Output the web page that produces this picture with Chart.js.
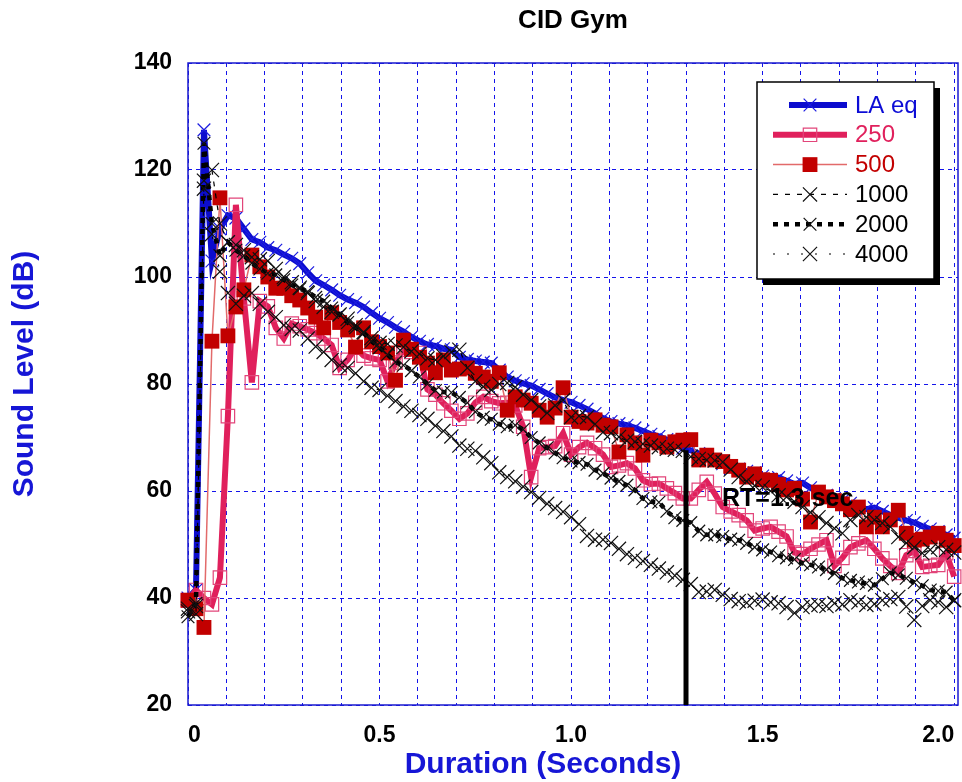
<!DOCTYPE html>
<html>
<head>
<meta charset="utf-8">
<title>CID Gym</title>
<script src="https://cdn.jsdelivr.net/npm/chart.js@4.4.1/dist/chart.umd.min.js"></script>
<style>
  html, body { margin: 0; padding: 0; background: #fff; }
  #wrap { width: 962px; height: 782px; }
</style>
</head>
<body>
<div id="wrap"><canvas id="gymChart" width="962" height="782"></canvas></div>
<script>
// --- data: one reading every 1/48 s, levels in dB ---
const sampleStep = 1 / 48;

const laEq = [
  40, 41.5, 127.5, 103, 109, 111.5, 111, 109, 107, 106.5,
  105.5, 105, 104.2, 103.5, 102.5, 100.8, 99.3, 98.5, 97.6, 96.6,
  95.8, 95.2, 94.4, 93.3, 92.3, 91.5, 90.6, 89.8, 88.8, 88,
  87.4, 87.1, 86.6, 86.4, 85, 84.6, 84.3, 84.1, 83.9, 82.6,
  81.3, 80.6, 80.1, 79.7, 79, 78.2, 77.5, 77, 76.6, 76,
  75.3, 74.5, 73.6, 73, 72.6, 72.3, 71.8, 71.2, 70.6, 70.2,
  69.6, 68.8, 68, 67.6, 67, 66.3, 65.7, 65.1, 64.6, 64.1,
  63.7, 63.4, 62.8, 62.2, 62.5, 61.9, 61.3, 61.5, 60.6, 59.8,
  59.2, 58.6, 58.2, 57.7, 57.1, 56.6, 56.9, 56.2, 55.5, 55,
  54.5, 54.1, 53.4, 52.9, 52.4, 51.8, 51.2
];
const band250 = [
  39.5, 41.5, 40, 38.8, 43.8, 74, 113.5, 96, 80.3, 95.5,
  94.5, 90.5, 88.5, 91.3, 90.8, 90.2, 89.5, 88.5, 87.3, 83,
  84.5, 86.8, 85.3, 84.8, 84.5, 80.5, 84, 86.4, 86, 85.8,
  79, 78, 76.4, 75, 73.5, 74.5, 76.5, 77.6, 76.8, 76.4,
  76.5, 76, 72, 62.6, 68, 68.2, 68.4, 70.8, 66.8, 68.2,
  69, 68, 66.8, 64.5, 64.8, 65.2, 64.2, 62, 61.3, 61.4,
  60.5, 59.6, 58.6, 58.6, 60.2, 61.7, 59.5, 57, 56.2, 55.5,
  54.5, 52.6, 53, 53.3, 52.4, 51.5, 48.5, 48.2, 49.2, 50,
  50.8, 46, 47.5, 49.5, 50.2, 50.8, 49.2, 47.4, 46, 44.7,
  48, 48.8, 45.8, 46, 46.2, 48.4, 44
];
const band500 = [
  39.6, 38, 34.5, 88, 114.8, 89, 94.4, 97.6, 104.1, 101.9,
  100, 97.9, 97.9, 96.5, 95.7, 94.2, 92.5, 90.5, 93.3, 91.5,
  90.1, 86.9, 90.5, 87.9, 87, 85.8, 80.7, 88.2, 86.5, 85,
  83.9, 82.1, 84.5, 82.6, 82.8, 83, 82, 81.3, 80.5, 82.1,
  75.1, 77.6, 77, 76.4, 75.1, 73.8, 75.5, 79.3, 73.8, 73,
  72.7, 73.3, 72.3, 72, 67.3, 70.5, 69, 66.7, 69.5, 69,
  68.2, 69.2, 69.5, 69.6, 65.8, 66.7, 65.8, 65.5, 64.6, 63.9,
  62.6, 63.2, 62.1, 62, 61.2, 60.2, 60.5, 58.5, 54.2, 59.8,
  58.9, 58.2, 57.6, 56.5, 57, 53.3, 55.1, 53.3, 54.6, 56.4,
  52.1, 50.8, 51, 51.4, 52.1, 50.8, 49.8
];
const band1000 = [
  38, 37, 118, 120, 110, 106.5, 106, 105, 103.7, 103.3,
  103, 101.5, 100, 99, 98, 97, 95.5, 94.4, 93.5, 93,
  92.2, 91, 89.7, 88.6, 87.7, 87.5, 87.2, 86.9, 86.1, 85.6,
  84.8, 84.5, 85.2, 86, 86.4, 83, 80.5, 79.5, 78.9, 80,
  80.2, 79.4, 78, 77, 75.8, 74.6, 76, 77, 73.8, 74,
  73.8, 72.5, 71, 70.8, 70.1, 69.4, 69.2, 68.8, 68.5, 68.2,
  67.9, 67.7, 67.5, 66.4, 66, 65.8, 65.7, 65.4, 64, 62.6,
  61.8, 61, 60.7, 60, 59.2, 58.9, 58, 57, 56, 55.1,
  54, 53, 52.1, 54.6, 55.5, 55.1, 54.6, 54, 53.3, 51.4,
  50.3, 49.5, 48.4, 49, 49.5, 49, 48.5
];
const band2000 = [
  36.5, 39, 125, 110, 104, 106.5, 105, 104, 102.6, 101.5,
  100.7, 100.4, 99.5, 98.5, 97.8, 97.3, 96.2, 95.5, 94.2, 93,
  91.5, 90.5, 89.5, 88, 86.8, 85.5, 84.1, 83.5, 82.5, 81.3,
  80, 78.8, 78.5, 78.4, 77.5, 76.5, 74.8, 73.8, 73.4, 72.5,
  72, 72.3, 71.5, 70, 69, 68.1, 67.1, 66.2, 65.6, 65.3,
  65, 63.9, 63.3, 62.4, 61.8, 61.1, 60.2, 58.6, 58, 57.9,
  56.2, 55, 54.5, 54.1, 52.5, 51.8, 51.8, 51.5, 51, 50.8,
  50.2, 49.5, 49, 48.6, 47.9, 47.5, 47.2, 46.5, 46.2, 45.8,
  45.3, 44.6, 43.7, 43.3, 43, 42.7, 42.4, 43.6, 44.7, 44.3,
  43.7, 42.9, 42.3, 41.5, 41.3, 41.1, 39.5
];
const band4000 = [
  37.5, 38.5, 116.5, 108, 101, 97, 95, 96.5, 97, 95,
  93.5, 92.5, 91, 90.3, 90, 88.5, 87, 86, 84.5, 83.5,
  83, 82, 80.5, 79.3, 78.9, 77.8, 76.8, 75.8, 75, 74.2,
  73.5, 72.2, 71.2, 70.2, 68.5, 67.9, 67.5, 66.3, 65.2, 63.5,
  62.6, 61.8, 60.8, 59.8, 58.7, 57.6, 56.8, 56.1, 55.1, 53.8,
  51.6, 50.9, 50.9, 50.3, 49.2, 48.2, 47.5, 46.9, 46.2, 45.5,
  44.8, 44.2, 43.4, 42.6, 41.1, 41.2, 41.5, 40.6, 39.8, 39.4,
  39.1, 39.5, 39.7, 39.2, 39, 38.3, 37.2, 38.3, 38.6, 38.7,
  38.5, 39, 38.8, 39.6, 39.2, 38.7, 38.9, 39.6, 39.8, 40.2,
  38.4, 35.9, 38.5, 39.6, 39.2, 38.3, 39.6
];

// reverberation time marker
const rtTime = 1.3;
const rtLevels = [20, 67.6];
const rtLabel = 'RT=1.3 sec';

// axes
const xGridValues = [0, 0.1, 0.2, 0.3, 0.4, 0.5, 0.6, 0.7, 0.8, 0.9, 1.0,
  1.1, 1.2, 1.3, 1.4, 1.5, 1.6, 1.7, 1.8, 1.9, 2.0];
const xTickValues = [0, 0.5, 1.0, 1.5, 2.0];
const xTickLabels = ['0', '0.5', '1.0', '1.5', '2.0'];
const yTickValues = [20, 40, 60, 80, 100, 120, 140];

const FONT = '"Liberation Sans", Arial, Helvetica, sans-serif';
const GRID_BLUE = 'rgb(20, 20, 235)';
const TITLE_BLUE = '#1616d6';

const times = laEq.map((_, i) => i * sampleStep);
const toPoints = vals => vals.map((v, i) => ({ x: times[i], y: v }));

const datasets = [
  {
    label: 'LA eq', data: toPoints(laEq), order: 6,
    borderColor: '#0c0cce', borderWidth: 6,
    pointStyle: 'crossRot', pointRadius: 9, pointBorderWidth: 1.2,
    pointBorderColor: '#1c1ce0', pointBackgroundColor: 'rgba(0,0,0,0)',
    inLegend: true, legendText: '#0c0cd6', legendStart: 32
  },
  {
    label: '250', data: toPoints(band250), order: 5,
    borderColor: '#e0205c', borderWidth: 6,
    pointStyle: 'rect', pointRadius: 9.5, pointBorderWidth: 1.2,
    pointBorderColor: '#e2457a', pointBackgroundColor: 'rgba(0,0,0,0)',
    inLegend: true, legendText: '#e0205c'
  },
  {
    label: '500', data: toPoints(band500), order: 4,
    borderColor: '#e26a6a', borderWidth: 1.5,
    pointStyle: 'rect', pointRadius: 10.5, pointBorderWidth: 0,
    pointBorderColor: '#c20000', pointBackgroundColor: '#c20000',
    inLegend: true, legendText: '#c20000'
  },
  {
    label: '1000', data: toPoints(band1000), order: 3,
    borderColor: '#000', borderWidth: 1.2, borderDash: [5, 7],
    pointStyle: 'crossRot', pointRadius: 10, pointBorderWidth: 1.2,
    pointBorderColor: '#111', pointBackgroundColor: 'rgba(0,0,0,0)',
    inLegend: true, legendText: '#000'
  },
  {
    label: '2000', data: toPoints(band2000), order: 2,
    borderColor: '#000', borderWidth: 4.5, borderDash: [5, 6],
    pointStyle: 'crossRot', pointRadius: 9, pointBorderWidth: 1.2,
    pointBorderColor: '#111', pointBackgroundColor: 'rgba(0,0,0,0)',
    inLegend: true, legendText: '#000'
  },
  {
    label: '4000', data: toPoints(band4000), order: 1,
    borderColor: '#000', borderWidth: 1.2, borderDash: [2, 12],
    pointStyle: 'crossRot', pointRadius: 10, pointBorderWidth: 1.2,
    pointBorderColor: '#111', pointBackgroundColor: 'rgba(0,0,0,0)',
    inLegend: true, legendText: '#000'
  },
  {
    label: 'RT', data: rtLevels.map(v => ({ x: rtTime, y: v })), order: 0,
    borderColor: '#000', borderWidth: 5, pointRadius: 0
  }
];

// title, axis titles, frame, legend box and RT note
const decorPlugin = {
  id: 'gymDecor',
  beforeDatasetsDraw(chart) {
    const { ctx, chartArea: a } = chart;
    ctx.save();
    ctx.strokeStyle = '#1a1ad0';
    ctx.lineWidth = 1.5;
    ctx.strokeRect(a.left, a.top, a.right - a.left, a.bottom - a.top);
    ctx.restore();
  },
  afterDraw(chart) {
    const { ctx, chartArea: a, scales } = chart;
    ctx.save();
    ctx.textAlign = 'center';
    ctx.textBaseline = 'middle';
    ctx.fillStyle = '#000';
    ctx.font = 'bold 26px ' + FONT;
    ctx.fillText('CID Gym', (a.left + a.right) / 2, 21);

    ctx.fillStyle = TITLE_BLUE;
    ctx.font = 'bold 30px ' + FONT;
    ctx.fillText('Duration (Seconds)', (a.left + a.right) / 2 - 30, 765);
    ctx.translate(25, (a.top + a.bottom) / 2 - 10);
    ctx.rotate(-Math.PI / 2);
    ctx.fillText('Sound Level (dB)', 0, 0);
    ctx.restore();

    // RT note
    ctx.save();
    ctx.fillStyle = '#000';
    ctx.font = 'bold 25px ' + FONT;
    ctx.textAlign = 'left';
    ctx.textBaseline = 'middle';
    ctx.fillText(rtLabel, scales.x.getPixelForValue(1.394), scales.y.getPixelForValue(58.4));
    ctx.restore();

    // legend box with drop shadow
    const L = a.right - 201, T = a.top + 19, W = 177, H = 197;
    ctx.save();
    ctx.fillStyle = '#000';
    ctx.fillRect(L + 6, T + 6, W, H);
    ctx.fillStyle = '#fff';
    ctx.fillRect(L, T, W, H);
    ctx.strokeStyle = '#000';
    ctx.lineWidth = 1.5;
    ctx.strokeRect(L, T, W, H);
    let row = 0;
    chart.data.datasets.forEach(ds => {
      if (!ds.inLegend) return;
      const y = T + 23 + row * 29.8;
      row++;
      ctx.save();
      ctx.setLineDash(ds.borderDash || []);
      ctx.strokeStyle = ds.borderColor;
      ctx.lineWidth = ds.borderWidth;
      ctx.beginPath();
      ctx.moveTo(L + (ds.legendStart || 16), y);
      ctx.lineTo(L + 90, y);
      ctx.stroke();
      ctx.restore();
      ctx.save();
      ctx.fillStyle = ds.pointBackgroundColor;
      ctx.strokeStyle = ds.pointBorderColor;
      ctx.lineWidth = ds.pointBorderWidth;
      Chart.helpers.drawPoint(ctx, {
        pointStyle: ds.pointStyle, radius: ds.pointRadius, rotation: 0,
        borderWidth: ds.pointBorderWidth
      }, L + 53, y);
      ctx.restore();
      ctx.fillStyle = ds.legendText;
      ctx.font = '24px ' + FONT;
      ctx.textAlign = 'left';
      ctx.textBaseline = 'middle';
      ctx.fillText(ds.label, L + 98, y + 1);
    });
    ctx.restore();
  }
};

const tickFont = { family: FONT, size: 23, weight: 'bold' };

new Chart(document.getElementById('gymChart'), {
  type: 'line',
  data: { datasets },
  options: {
    responsive: false,
    animation: false,
    layout: { autoPadding: false, padding: { top: 63, right: 4, bottom: 0, left: 0 } },
    elements: { line: { tension: 0 } },
    datasets: { line: { clip: false } },
    plugins: {
      legend: { display: false },
      tooltip: { enabled: false },
      title: { display: false }
    },
    scales: {
      x: {
        type: 'linear', min: 0, max: 2.01,
        afterBuildTicks: s => { s.ticks = xGridValues.map(v => ({ value: v })); },
        afterFit: s => { s.height = 77; s.paddingLeft = 0; s.paddingRight = 0; },
        grid: { color: GRID_BLUE, lineWidth: 1, tickLength: 14, tickColor: 'rgba(0,0,0,0)' },
        border: { display: false, dash: [4, 4] },
        ticks: {
          autoSkip: false, maxRotation: 0, align: 'inner', padding: 3,
          color: '#000', font: tickFont,
          callback: v => {
            const k = xTickValues.findIndex(t => Math.abs(t - v) < 1e-6);
            return k < 0 ? '' : xTickLabels[k];
          }
        }
      },
      y: {
        min: 20, max: 140,
        afterBuildTicks: s => { s.ticks = yTickValues.map(v => ({ value: v })); },
        afterFit: s => { s.width = 188; s.paddingTop = 0; s.paddingBottom = 0; },
        grid: { color: GRID_BLUE, lineWidth: 1, tickLength: 12, tickColor: 'rgba(0,0,0,0)' },
        border: { display: false, dash: [4, 4] },
        ticks: { padding: 4, color: '#000', font: tickFont }
      }
    }
  },
  plugins: [decorPlugin]
});
</script>
</body>
</html>
